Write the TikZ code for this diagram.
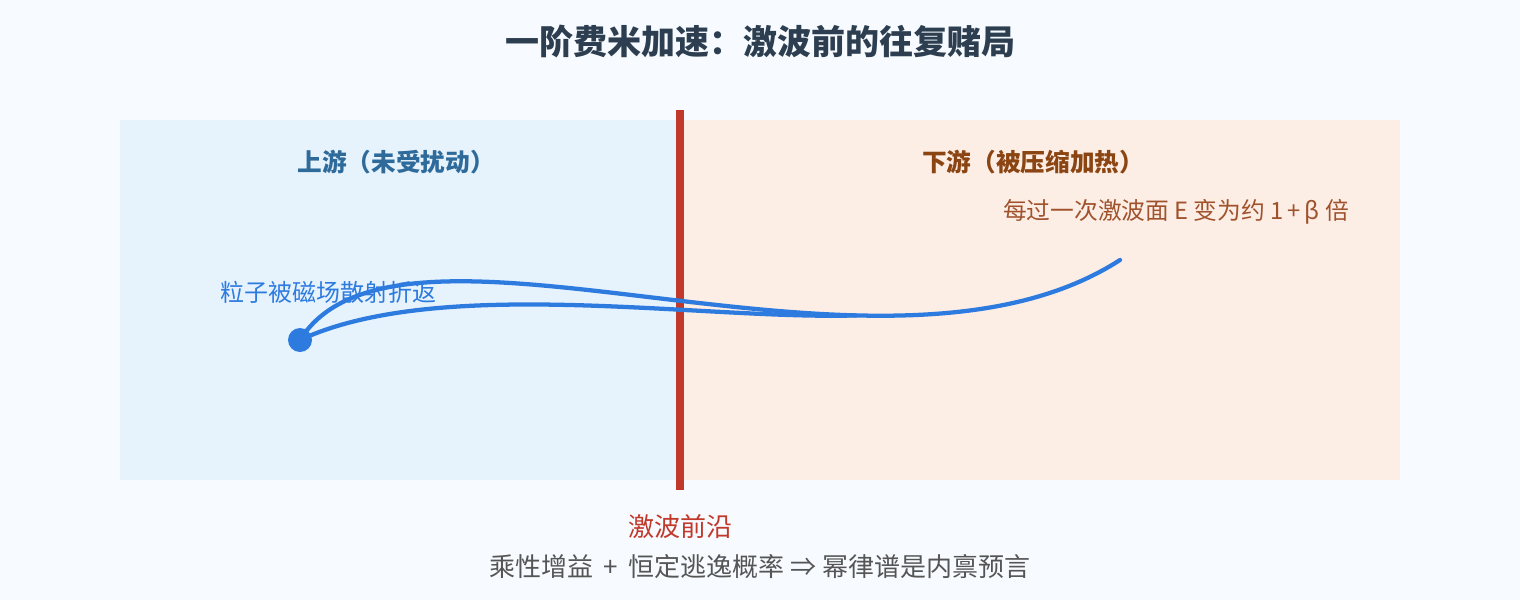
\documentclass[tikz,border=0pt]{standalone}
\usepackage{fontspec}
\setmainfont{Noto Sans CJK SC}
\definecolor{bgc}{HTML}{F7FBFF}
\definecolor{upfill}{HTML}{E6F3FD}
\definecolor{downfill}{HTML}{FDEEE5}
\definecolor{titlec}{HTML}{2C3E50}
\definecolor{upc}{HTML}{2E6A9A}
\definecolor{downc}{HTML}{8B4513}
\definecolor{notec}{HTML}{A0522D}
\definecolor{shockc}{HTML}{C0392B}
\definecolor{pathc}{HTML}{2E7BE0}
\definecolor{grayc}{HTML}{555555}
\begin{document}
\begin{tikzpicture}[x=0.75pt,y=-0.75pt,
  panelbox/.style={inner sep=0pt,outer sep=0pt,draw=none},
  labeltxt/.style={inner sep=0pt,anchor=center},
  orbit/.style={draw=pathc,line width=3.2pt,line cap=round}]
\path[fill=bgc] (0,0) rectangle (1520,600);
\useasboundingbox (0,0) rectangle (1520,600);
% panels
\node[panelbox,fill=upfill,minimum width=420pt,minimum height=270pt,anchor=north west] (up) at (120,120) {};
\node[panelbox,fill=downfill,minimum width=540pt,minimum height=270pt,anchor=north west] (down) at (680,120) {};
% shock
\coordinate (shtop) at (680,110);
\coordinate (shbot) at (680,490);
\draw[shockc,line width=6pt] (shtop) -- (shbot);
% title
\node[labeltxt,text=titlec,font=\bfseries\fontsize{25.5}{30}\selectfont] (title) at (760,41) {一阶费米加速：激波前的往复赌局};
\node[labeltxt,text=upc,font=\bfseries\fontsize{18.5}{22}\selectfont] (uplab) at (396,162) {上游（未受扰动）};
\node[labeltxt,text=downc,font=\bfseries\fontsize{18.5}{22}\selectfont] (downlab) at (1033,162) {下游（被压缩加热）};
\node[labeltxt,text=notec,font=\fontsize{17.8}{21}\selectfont] (note) at (1176,212) {每过一次激波面 E 变为约 1\,+\,β 倍};
\node[labeltxt,text=pathc,font=\fontsize{18}{21}\selectfont] (scat) at (328,292) {粒子被磁场散射折返};
\node[labeltxt,text=shockc,font=\fontsize{19.5}{23}\selectfont] (shlab) at (680,527) {激波前沿};
\node[labeltxt,text=grayc,font=\fontsize{19.5}{23}\selectfont] (bottom) at (760,567) {乘性增益 \,+\, 恒定逃逸概率 ⇒ 幂律谱是内禀预言};
% particle
\node[circle,fill=pathc,minimum size=18pt,inner sep=0pt] (dot) at (300,340) {};
\coordinate (pend) at (1120,260);
\coordinate (merge) at (856,315.4);
\draw[orbit] (dot.center) .. controls (400,180) and (880,415) .. (pend);
\draw[orbit] (dot.center) .. controls (440,275) and (700,320) .. (merge);
\end{tikzpicture}
\end{document}
